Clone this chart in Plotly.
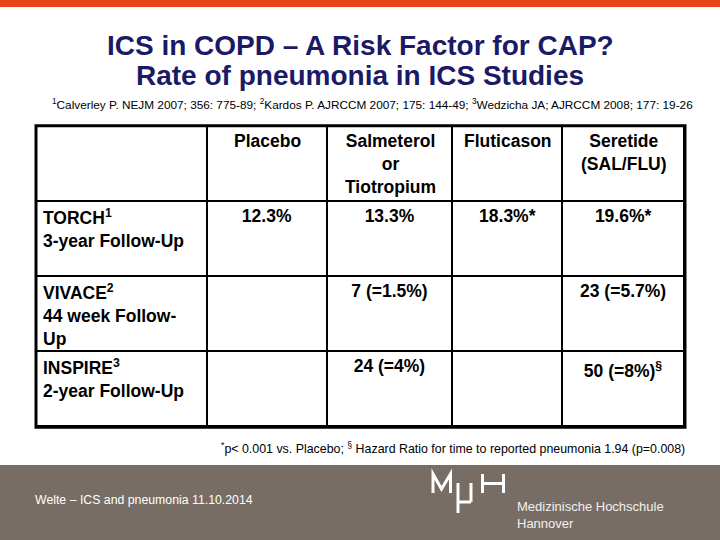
import plotly.graph_objects as go

W, H = 720, 540

title_lines = ["ICS in COPD – A Risk Factor for CAP?", "Rate of pneumonia in ICS Studies"]
references = ("<sup>1</sup>Calverley P. NEJM 2007; 356: 775-89; <sup>2</sup>Kardos P. AJRCCM 2007; "
              "175: 144-49; <sup>3</sup>Wedzicha JA; AJRCCM 2008; 177: 19-26")

columns = ["", "Placebo", "Salmeterol<br>or<br>Tiotropium", "Fluticason", "Seretide<br>(SAL/FLU)"]
studies = [
    "TORCH<sup>1</sup><br>3-year Follow-Up",
    "VIVACE<sup>2</sup><br>44 week Follow-<br>Up",
    "INSPIRE<sup>3</sup><br>2-year Follow-Up",
]
placebo = ["12.3%", "", ""]
salmeterol = ["13.3%", "7 (=1.5%)", "24 (=4%)"]
fluticason = ["18.3%*", "", ""]
seretide = ["19.6%*", "23 (=5.7%)", "50 (=8%)<sup>§</sup>"]

footnote = "<sup>*</sup>p< 0.001 vs. Placebo; <sup>§</sup> Hazard Ratio for time to reported pneumonia 1.94 (p=0.008)"
footer_text = "Welte – ICS and pneumonia 11.10.2014"
institution = "Medizinische Hochschule<br>Hannover"

ORANGE = "#e8421d"
GREY = "#776d64"
NAVY = "#1a1a66"
FONT = "Liberation Sans"

# table frame in slide pixels
TX0, TX1, TY0, TY1 = 36, 685, 125.7, 427.3
ROW_H = 75
col_widths = [171, 120, 126, 110, 122]


def px(x):
    return x / W


def py(y):
    return 1 - y / H


fig = go.Figure()

cell_font = dict(family=FONT, size=17.5, color="black", weight="bold")

# header labels and study names are drawn as annotations (below) so that
# multi-line labels keep their line centring and the rows keep equal height
fig.add_trace(go.Table(
    domain=dict(x=[px(TX0), px(TX1)], y=[py(TY1), py(TY0)]),
    columnwidth=col_widths,
    header=dict(
        values=[""] * len(columns),
        height=ROW_H,
        line=dict(color="black", width=2),
        fill_color="white",
        font=cell_font,
    ),
    cells=dict(
        values=[[""] * len(studies), placebo, salmeterol, fluticason, seretide],
        height=ROW_H,
        align="center",
        line=dict(color="black", width=2),
        fill_color="white",
        font=cell_font,
    ),
))

# slide decoration
shapes = [
    dict(type="rect", xref="paper", yref="paper", x0=0, x1=1, y0=py(7), y1=1,
         fillcolor=ORANGE, line_width=0, layer="below"),
    dict(type="rect", xref="paper", yref="paper", x0=0, x1=1, y0=0, y1=py(465),
         fillcolor=GREY, line_width=0, layer="below"),
    dict(type="rect", xref="paper", yref="paper", x0=px(TX0), x1=px(TX1), y0=py(TY1), y1=py(TY0),
         line=dict(color="black", width=3)),
]

# MHH logo strokes
logo = [
    [(433, 493), (433, 474), (441.5, 489), (450.5, 474), (450.5, 493)],
    [(458, 483), (458, 513)],
    [(458, 502), (471, 502)],
    [(471, 483), (471, 502)],
    [(482.5, 474), (482.5, 493)],
    [(503.5, 474), (503.5, 493)],
    [(482.5, 483.5), (503.5, 483.5)],
]
for stroke in logo:
    path = "M " + " L ".join(f"{px(x):.5f},{py(y):.5f}" for x, y in stroke)
    shapes.append(dict(type="path", xref="paper", yref="paper", path=path,
                       line=dict(color="white", width=3)))

annotations = [
    dict(text=f"<b>{title_lines[0]}</b>", x=0.5, y=py(45), font=dict(size=28, color=NAVY)),
    dict(text=f"<b>{title_lines[1]}</b>", x=0.5, y=py(76), font=dict(size=28, color=NAVY)),
    dict(text=references, x=px(50), y=py(105), xanchor="left", font=dict(size=11.8, color="black")),
    dict(text=footnote, x=px(687), y=py(448), xanchor="right", font=dict(size=12.4, color="black")),
    dict(text=footer_text, x=px(33), y=py(500), xanchor="left", font=dict(size=12.3, color="white")),
    dict(text=institution, x=px(515), y=py(515), xanchor="left", align="left",
         font=dict(size=13, color="#f2f0ee")),
]

# header labels, centred over each column
scale = (TX1 - TX0) / sum(col_widths)
left = TX0
for label, w in zip(columns, col_widths):
    centre = left + w * scale / 2
    left += w * scale
    if label:
        annotations.append(dict(text=f"<b>{label}</b>", x=px(centre), y=py(TY0 + 3), yanchor="top",
                                align="center", font=dict(size=17.5, color="black")))

# study names, left aligned in the first column
for i, name in enumerate(studies):
    top = TY0 + ROW_H * (i + 1)
    annotations.append(dict(text=f"<b>{name}</b>", x=px(TX0 + 5), y=py(top + 3), xanchor="left",
                            yanchor="top", align="left", font=dict(size=17.5, color="black")))

for a in annotations:
    a.update(xref="paper", yref="paper", showarrow=False)
    a.setdefault("yanchor", "middle")
    a.setdefault("xanchor", "center")
    a["font"]["family"] = FONT

fig.update_layout(
    width=W, height=H,
    margin=dict(l=0, r=0, t=0, b=0),
    paper_bgcolor="white",
    plot_bgcolor="white",
    shapes=shapes,
    annotations=annotations,
    showlegend=False,
)

fig.write_html("out.html", config={"displayModeBar": False},
               post_script="document.body.style.margin='0';")
